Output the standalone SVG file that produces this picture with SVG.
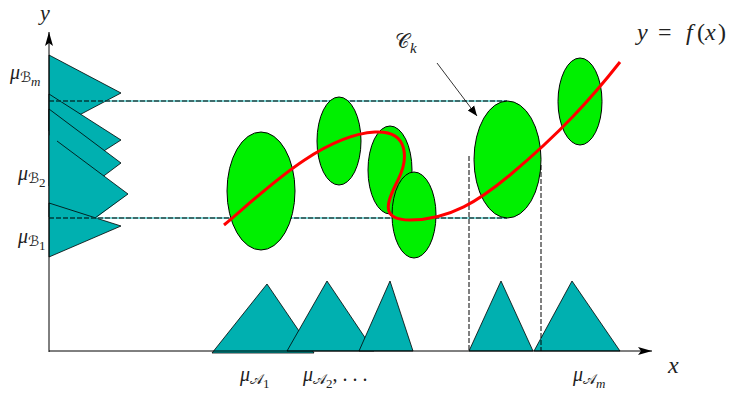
<svg xmlns="http://www.w3.org/2000/svg" width="733" height="393" viewBox="0 0 733 393">
<style>
.tri{fill:#00b0b0;stroke:#000;stroke-width:0.8;stroke-linejoin:miter}
.ell{fill:#00f000;stroke:#000;stroke-width:1}
.dash{fill:none;stroke:#000;stroke-width:1;stroke-dasharray:5,2}
.dashc{fill:none;stroke:#00b0b0;stroke-width:1}
.axis{fill:none;stroke:#000;stroke-width:1}
.m{font-family:"Liberation Serif","DejaVu Serif",serif;font-style:italic;fill:#222}
.cal{font-family:"DejaVu Sans","DejaVu Serif",serif;font-style:normal;fill:#222}
.n{font-family:"Liberation Serif","DejaVu Serif",serif;font-style:normal;fill:#222}
</style>
<defs>
<marker id="ah" viewBox="0 0 10 10" refX="10" refY="5" markerWidth="10" markerHeight="10" markerUnits="userSpaceOnUse" orient="auto">
<path d="M0,1 L10,5 L0,9 Z" fill="#000"/>
</marker>
<marker id="axh" viewBox="0 0 14 8" refX="14" refY="4" markerWidth="14" markerHeight="8" markerUnits="userSpaceOnUse" orient="auto">
<path d="M0,0 L14,4 L0,8 L3,4 Z" fill="#000"/>
</marker>
</defs>

<g id="left-sets">
<polygon class="tri" points="49,55 121,93 49,131"/>
<polygon class="tri" points="49,94 121,140 49,186"/>
<polygon class="tri" points="49,109 121,163 49,217"/>
<polygon points="49,135 128,194 49,253" fill="#00b0b0"/>
<polyline points="57,141 128,194 95,218" fill="none" stroke="#000" stroke-width="0.8"/>
<polygon class="tri" points="49,203 121,226 49,257"/>
</g>

<g id="bottom-sets">
<polygon class="tri" points="212,353 267,284 314,353"/>
<polygon class="tri" points="287,351 327,281 374,351"/>
<polygon class="tri" points="359,351 390,281 413,351"/>
<polygon class="tri" points="469,351 501,281 533,351"/>
<polygon class="tri" points="534,351 572,281 620,351"/>
</g>

<g id="connectors">
<line class="dashc" x1="49" y1="101" x2="507" y2="101"/>
<line class="dash" x1="49" y1="101" x2="507" y2="101"/>
<line class="dashc" x1="49" y1="218" x2="507" y2="218"/>
<line class="dash" x1="49" y1="218" x2="507" y2="218"/>
<line class="dash" x1="469" y1="156" x2="469" y2="351"/>
<line class="dash" x1="541" y1="165" x2="541" y2="351" stroke="#555"/>
<line class="axis" x1="49" y1="352" x2="49" y2="32" marker-end="url(#axh)"/>
<line class="axis" x1="49" y1="351" x2="652" y2="351" marker-end="url(#axh)"/>
<line x1="437" y1="63" x2="477" y2="116" stroke="#000" stroke-width="0.8" marker-end="url(#ah)"/>
</g>

<g id="clusters">
<ellipse id="c1" class="ell" cx="261" cy="191" rx="34" ry="59"/>
<ellipse id="c2" class="ell" cx="339" cy="141" rx="22" ry="44"/>
<ellipse id="c3" class="ell" cx="390" cy="170" rx="22" ry="44"/>
<ellipse id="c4" class="ell" cx="414" cy="215" rx="22" ry="43"/>
<ellipse id="ck" class="ell" cx="507.5" cy="159.5" rx="33.5" ry="58.5"/>
<ellipse id="c6" class="ell" cx="580" cy="101.5" rx="22" ry="43.5"/>
</g>

<g id="curve">
<path d="M224,225 C260,195 320,135 375,132 C410,130 408,160 398,180 C388,200 378,220 410,220 C450,220 480,200 510,175 C560,133 590,100 620,62" fill="none" stroke="#f00" stroke-width="3"/>
</g>

<g id="labels">
<text class="m" x="40" y="20" font-size="22">y</text>
<text class="m" x="668" y="373" font-size="24">x</text>
<text font-size="24" y="40"><tspan class="m" x="637">y</tspan><tspan class="n" x="658">=</tspan><tspan class="m" x="686">f</tspan><tspan class="n" x="697">(</tspan><tspan class="m" x="705">x</tspan><tspan class="n" x="718">)</tspan></text>
<text x="395" y="48" font-size="20"><tspan class="cal">𝒞</tspan><tspan class="m" font-size="15" dy="5">k</tspan></text>

<text x="10" y="79"><tspan class="m" font-size="20">μ</tspan><tspan class="cal" font-size="14" dy="3">ℬ</tspan><tspan class="m" font-size="13" dy="4">m</tspan></text>
<text x="18" y="180"><tspan class="m" font-size="20">μ</tspan><tspan class="cal" font-size="14" dy="3">ℬ</tspan><tspan class="n" font-size="13" dy="4">2</tspan></text>
<text x="18" y="243"><tspan class="m" font-size="20">μ</tspan><tspan class="cal" font-size="14" dy="3">ℬ</tspan><tspan class="n" font-size="13" dy="4">1</tspan></text>

<text x="240" y="381"><tspan class="m" font-size="20">μ</tspan><tspan class="cal" font-size="14" dy="3">𝒜</tspan><tspan class="n" font-size="13" dy="4">1</tspan></text>
<text x="303" y="381"><tspan class="m" font-size="20">μ</tspan><tspan class="cal" font-size="14" dy="3">𝒜</tspan><tspan class="n" font-size="13" dy="4">2</tspan><tspan class="n" font-size="20" dy="-7">, . . .</tspan></text>
<text x="573" y="381"><tspan class="m" font-size="20">μ</tspan><tspan class="cal" font-size="14" dy="3">𝒜</tspan><tspan class="m" font-size="13" dy="4">m</tspan></text>
</g>
</svg>
